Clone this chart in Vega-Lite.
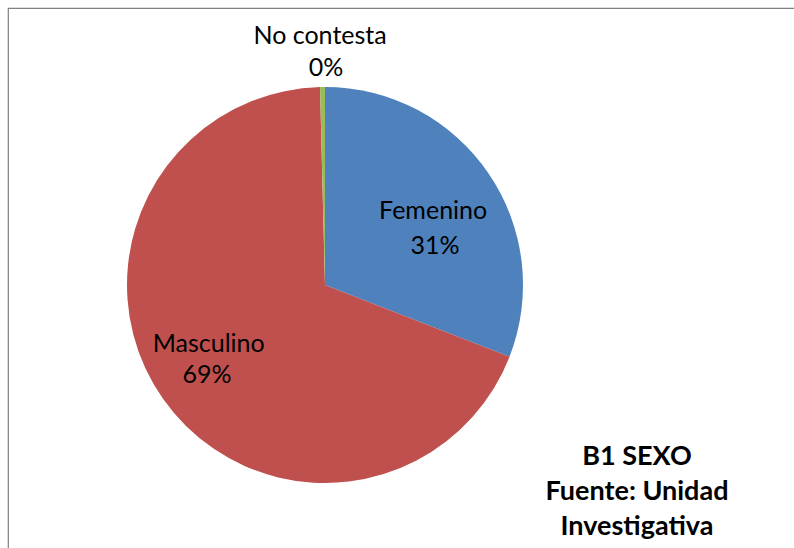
{
  "$schema": "https://vega.github.io/schema/vega-lite/v6.json",
  "width": 786,
  "height": 554,
  "autosize": {"type": "none"},
  "padding": {"left": 8, "top": 8, "right": 0, "bottom": 0},
  "background": "white",
  "view": {"stroke": "#808080", "strokeWidth": 1.2, "strokeDash": [786, 1340, 554]},
  "title": {
    "text": ["B1 SEXO", "Fuente: Unidad", "Investigativa"],
    "orient": "bottom",
    "anchor": "end",
    "align": "center",
    "dx": -157,
    "offset": -118,
    "font": "Lato",
    "fontSize": 27,
    "fontWeight": "bold",
    "lineHeight": 35,
    "color": "#000000"
  },
  "config": {
    "text": {"font": "Lato", "fontSize": 25, "color": "#000000", "baseline": "middle", "align": "center"}
  },
  "data": {
    "values": [
      {"Sexo": "Femenino", "valor": 0.309},
      {"Sexo": "Masculino", "valor": 0.687},
      {"Sexo": "No contesta", "valor": 0.004}
    ]
  },
  "encoding": {
    "theta": {"field": "valor", "type": "quantitative", "stack": true}
  },
  "layer": [
    {
      "mark": {"type": "arc", "outerRadius": 198, "xOffset": -76},
      "encoding": {
        "color": {
          "field": "Sexo",
          "type": "nominal",
          "scale": {"domain": ["Femenino", "Masculino", "No contesta"], "range": ["#4F81BD", "#C0504D", "#9BBB59"]},
          "legend": null
        }
      }
    },
    {
      "mark": {"type": "text", "radius": 125, "dx": -71, "dy": -3},
      "encoding": {"text": {"field": "Sexo", "type": "nominal", "condition": {"test": "datum.Sexo !== 'Femenino'", "value": ""}}}
    },
    {
      "mark": {"type": "text", "radius": 125, "dx": -71, "dy": 29},
      "encoding": {"text": {"field": "valor", "type": "quantitative", "format": ".0%", "condition": {"test": "datum.Sexo !== 'Femenino'", "value": ""}}}
    },
    {
      "mark": {"type": "text", "radius": 125, "dx": -90, "dy": -13},
      "encoding": {"text": {"field": "Sexo", "type": "nominal", "condition": {"test": "datum.Sexo !== 'Masculino'", "value": ""}}}
    },
    {
      "mark": {"type": "text", "radius": 125, "dx": -90, "dy": 21},
      "encoding": {"text": {"field": "valor", "type": "quantitative", "format": ".0%", "condition": {"test": "datum.Sexo !== 'Masculino'", "value": ""}}}
    },
    {
      "mark": {"type": "text", "radius": 232, "dx": -78, "dy": -17},
      "encoding": {"text": {"field": "Sexo", "type": "nominal", "condition": {"test": "datum.Sexo !== 'No contesta'", "value": ""}}}
    },
    {
      "mark": {"type": "text", "radius": 232, "dx": -78, "dy": 15},
      "encoding": {"text": {"field": "valor", "type": "quantitative", "format": ".0%", "condition": {"test": "datum.Sexo !== 'No contesta'", "value": ""}}}
    }
  ]
}
